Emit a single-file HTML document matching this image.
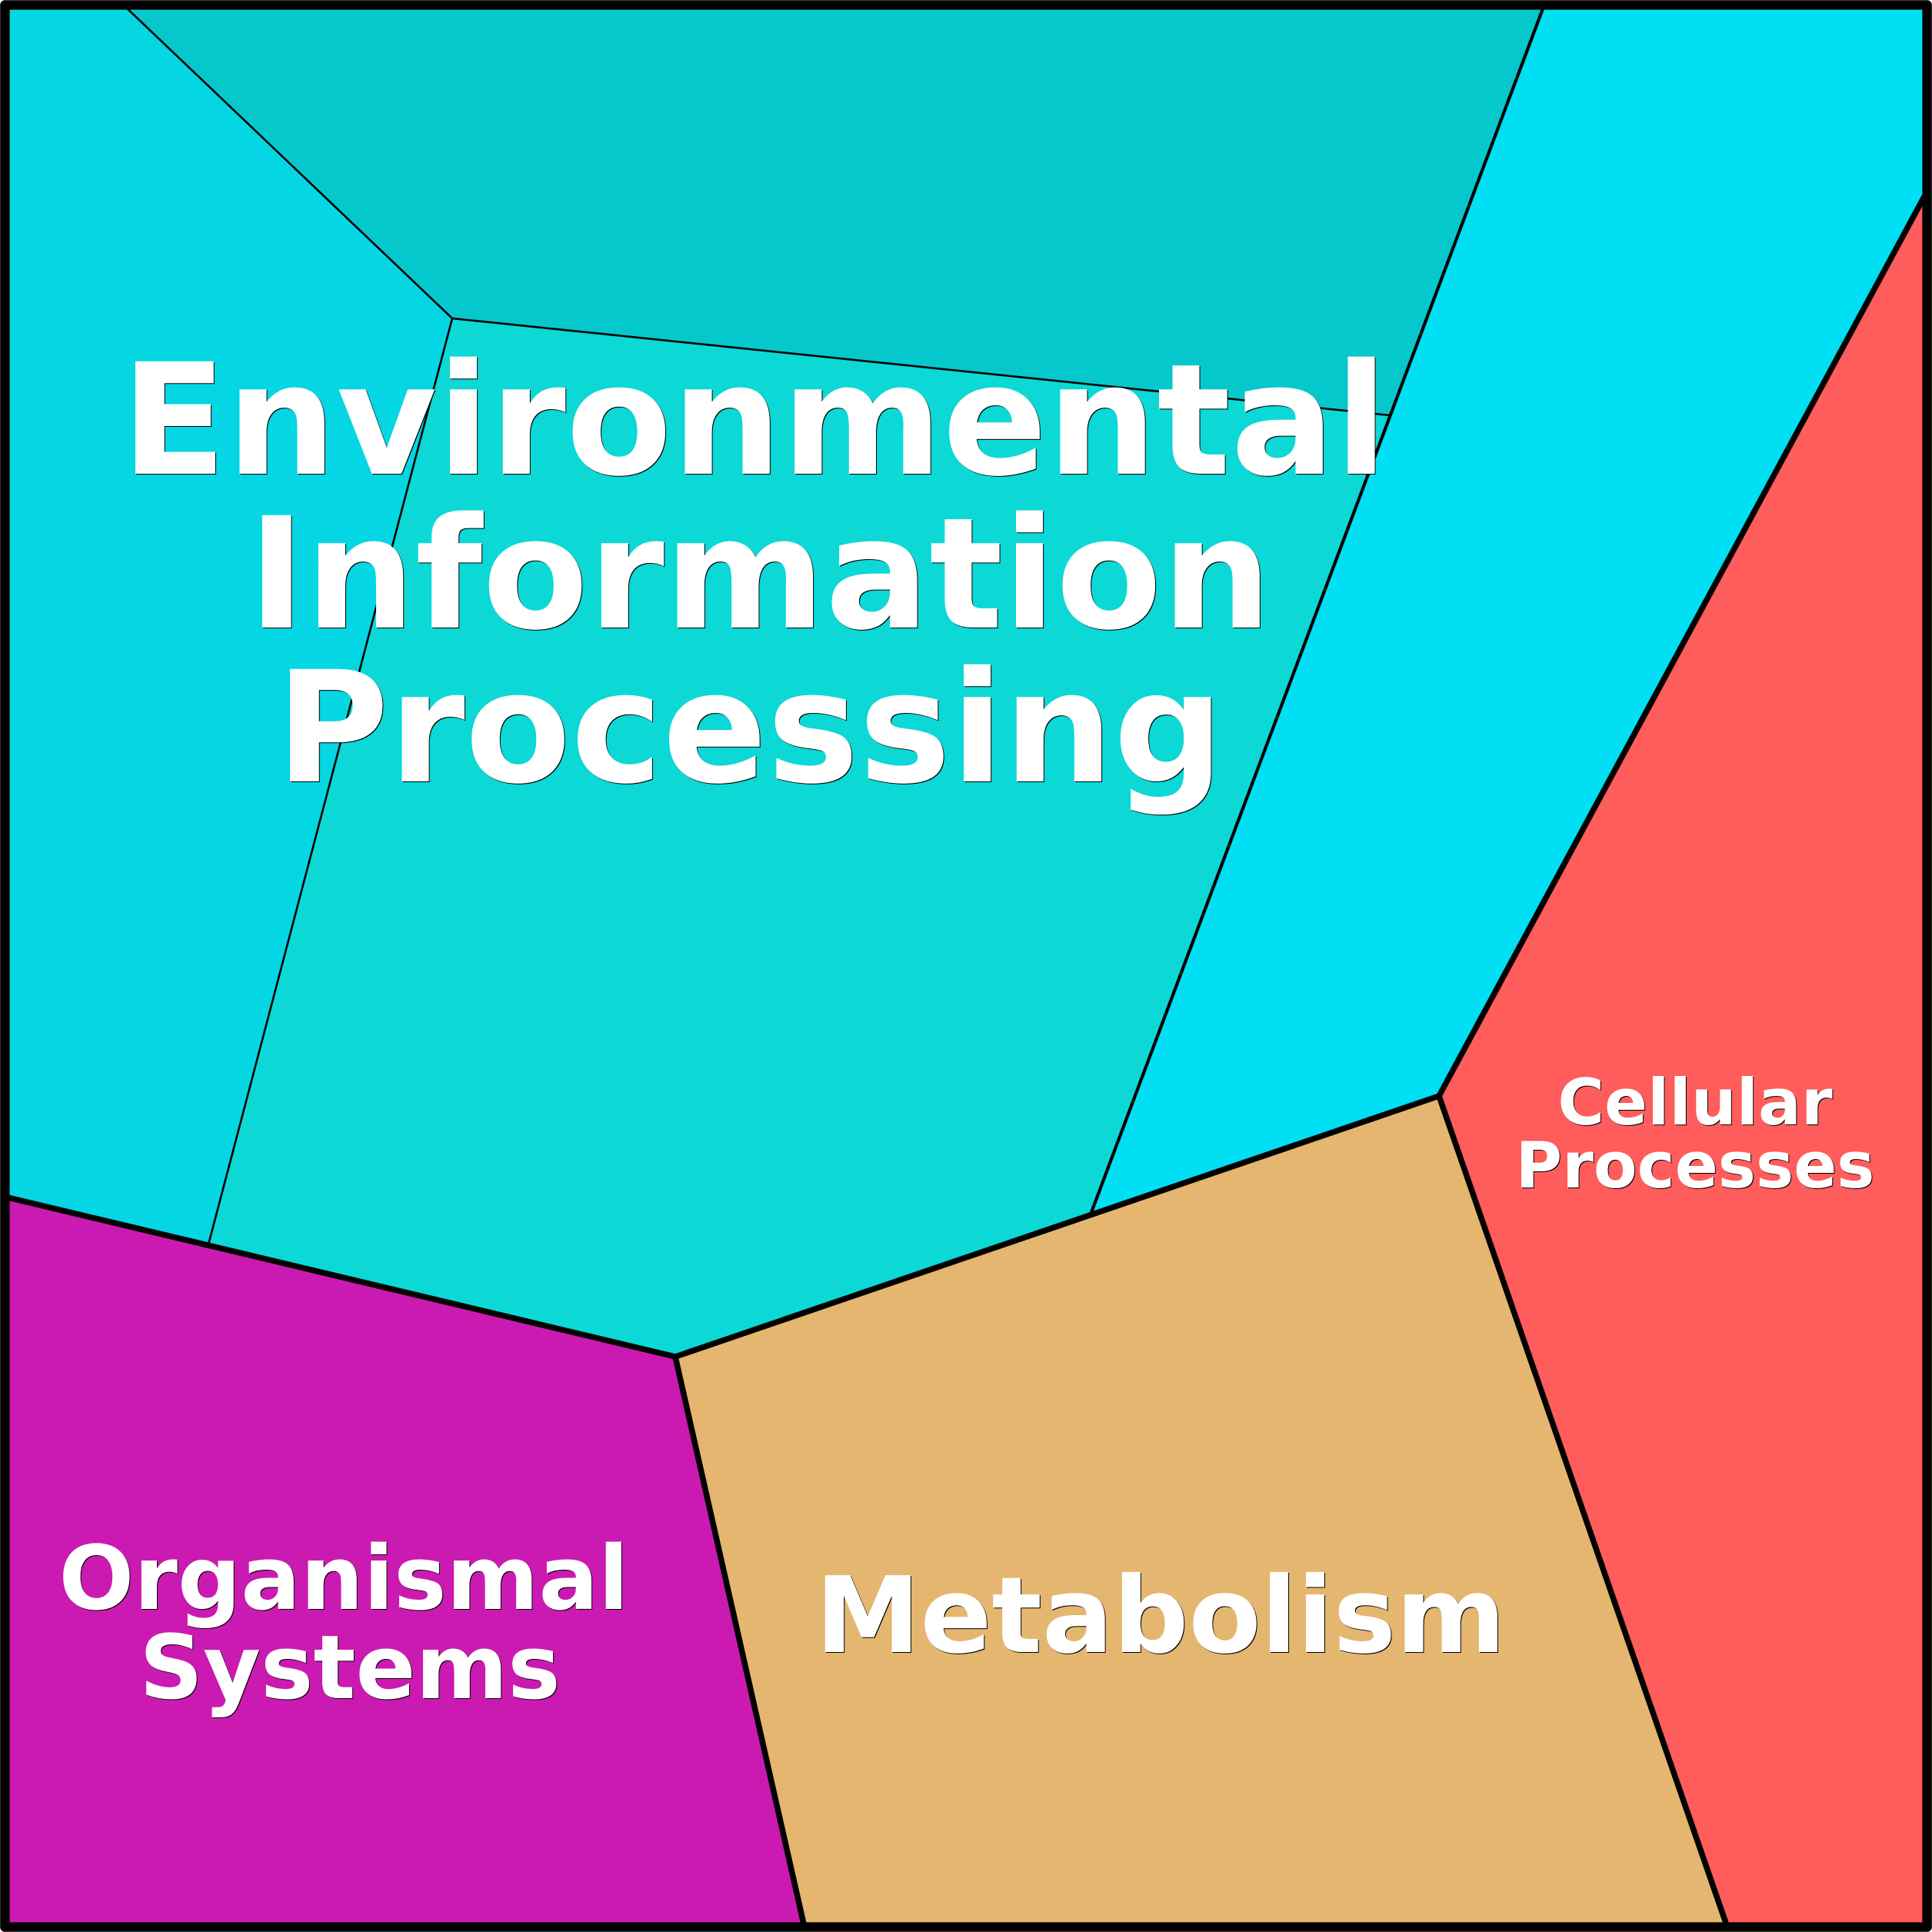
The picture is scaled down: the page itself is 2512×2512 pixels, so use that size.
<!DOCTYPE html>
<html><head><meta charset="utf-8"><style>
html,body{margin:0;padding:0;background:#fff}
svg{display:block}
.a{font-family:"DejaVu Sans",sans-serif;font-weight:bold;text-anchor:middle}
</style></head><body>
<svg xmlns="http://www.w3.org/2000/svg" width="2512" height="2512" viewBox="0 0 2512 2512">
<rect width="2512" height="2512" fill="#fff"/>
<polygon points="6,6 160,6 588,414 271,1618 6,1556" fill="#05d6e3"/>
<polygon points="160,6 2008,6 1807,540 588,414" fill="#05c8cd"/>
<polygon points="588,414 1807,540 1418,1579 878,1764 271,1618" fill="#0cd8d6"/>
<polygon points="2008,6 2506,6 2506,248 1871,1425 1418,1579" fill="#00dff3"/>
<polygon points="2506,248 2506,2506 2246,2506 1871,1425" fill="#ff5c5c"/>
<polygon points="878,1764 1871,1425 2246,2506 1046,2506" fill="#e4b66f"/>
<polygon points="6,1556 878,1764 1046,2506 6,2506" fill="#cb1ab1"/>
<g fill="none" stroke="#000" stroke-width="2.6">
<path d="M160,6 L588,414 L1807,540"/>
<path d="M588,414 L271,1618"/>
</g>
<path d="M2008,6 L1418,1579" fill="none" stroke="#000" stroke-width="4.2"/>
<g fill="none" stroke="#000" stroke-width="7.5" stroke-linejoin="round">
<path d="M6,1556 L878,1764 L1871,1425 L2506,248"/>
<path d="M878,1764 L1046,2506"/>
<path d="M1871,1425 L2246,2506"/>
</g>
<rect x="6.4" y="6.4" width="2499.2" height="2499.2" fill="none" stroke="#000" stroke-width="12.4" stroke-linejoin="round"/>

<g class="a" font-size="200.6" fill="#000">
<text x="982" y="617">Environmental</text>
<text x="989" y="817">Information</text>
<text x="976" y="1017">Processing</text>
</g>
<g class="a" font-size="200.6" fill="#fff">
<text x="981" y="616">Environmental</text>
<text x="988" y="816">Information</text>
<text x="975" y="1016">Processing</text>
</g>
<g class="a" font-size="82.7" fill="#000">
<text x="2205" y="1463">Cellular</text>
<text x="2205" y="1545">Processes</text>
</g>
<g class="a" font-size="82.7" fill="#fff">
<text x="2204" y="1462">Cellular</text>
<text x="2204" y="1544">Processes</text>
</g>
<g class="a" font-size="115" fill="#000">
<text x="448" y="2093">Organismal</text>
<text x="456" y="2209">Systems</text>
</g>
<g class="a" font-size="115" fill="#fff">
<text x="447" y="2092">Organismal</text>
<text x="455" y="2208">Systems</text>
</g>
<g class="a" font-size="137" fill="#000">
<text x="1510" y="2149">Metabolism</text>
</g>
<g class="a" font-size="137" fill="#fff">
<text x="1509" y="2148">Metabolism</text>
</g>
</svg>
</body></html>
